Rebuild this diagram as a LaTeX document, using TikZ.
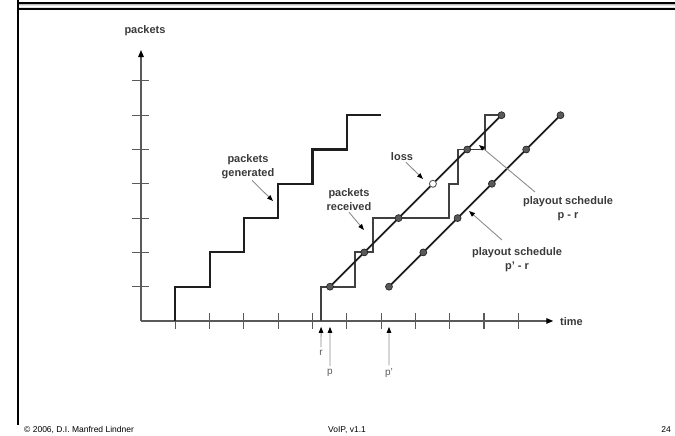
\documentclass[tikz,border=0pt]{standalone}
\usepackage{fontspec}
\setmainfont{Liberation Sans}
\usetikzlibrary{arrows.meta}
\definecolor{ink}{HTML}{1E1E1E}
\definecolor{axisgray}{HTML}{5A5A5A}
\definecolor{labelgray}{HTML}{3A3A3A}
\definecolor{leadergray}{HTML}{8C8C8C}
\definecolor{dotgray}{HTML}{595959}
\begin{document}
\begin{tikzpicture}[x=1pt,y=1pt,
  axisline/.style={draw=axisgray,line width=1.3pt},
  tickline/.style={draw=axisgray,line width=1.1pt},
  stair/.style={draw=ink,line width=2.1pt,line join=miter},
  recvstair/.style={draw=ink!85,line width=1.8pt,line join=miter},
  playline/.style={draw=ink,line width=1.7pt},
  pktdot/.style={fill=dotgray,draw=ink,line width=0.6pt},
  lossdot/.style={fill=white,draw=axisgray,line width=0.9pt},
  lbl/.style={font=\fontsize{11}{14}\selectfont\bfseries,text=labelgray,align=center,inner sep=1pt},
  marklbl/.style={font=\fontsize{10}{12}\selectfont,text=axisgray,inner sep=3pt},
  leader/.style={draw=leadergray,line width=0.9pt,-{Triangle[length=6pt,width=4.5pt,color=black]}},
  footer/.style={font=\fontsize{8.5}{10}\selectfont,text=black,inner sep=0pt,anchor=base west}
]
\useasboundingbox (0,0) rectangle (675,436);

% slide frame: header bar and left rule
\shade[top color=gray!75,bottom color=gray!75,middle color=white] (18,427) rectangle (675,433);
\draw[black,line width=1.6pt] (18,433) -- (675,433);
\draw[black,line width=1.6pt] (18,427) -- (675,427);
\draw[black,line width=1.8pt] (18,436) -- (18,11);

% footer
\node[footer] (copy) at (24,3) {© 2006, D.I. Manfred Lindner};
\node[footer] (ver) at (328,3) {VoIP, v1.1};
\node[footer,anchor=base east] (page) at (671,3) {24};

% plot in grid units: one tick = 34.3pt
\begin{scope}[shift={(141pt,115pt)},x=34.3pt,y=34.3pt]
  \coordinate (O) at (0,0);
  \coordinate (xend) at (12.02,0);
  \coordinate (yend) at (0,7.9);
  \draw[axisline,-{Triangle[length=7pt,width=5.5pt,color=black]}] (O) -- (xend);
  \draw[axisline,-{Triangle[length=7pt,width=5.5pt,color=black]}] (O) -- (yend);
  \foreach \i in {1,...,11} \draw[tickline] (\i,-0.24) -- (\i,0.22);
  \foreach \j in {1,...,7} \draw[tickline] (-0.26,\j) -- (0.24,\j);

  % packets generated
  \draw[stair] (1,0) -- (1,1) -- (2,1) -- (2,2) -- (3,2) -- (3,3) -- (4,3)
    -- (4,4) -- (5,4) -- (5,5) -- (6,5) -- (6,6) -- (7,6);

  % packets received
  \draw[recvstair] (5.25,0) -- (5.25,1) -- (6.25,1) -- (6.25,2) -- (6.76,2)
    -- (6.76,3) -- (8.98,3) -- (8.98,4) -- (9.24,4) -- (9.24,5) -- (10.03,5)
    -- (10.03,6) -- (10.52,6);

  % playout schedule p - r
  \draw[playline] (5.51,1) -- (10.51,6);
  \foreach \k in {0,1,2,4,5}
    \fill[pktdot] (5.51+\k,1+\k) circle[radius=3.5pt];
  \filldraw[lossdot] (8.51,4) circle[radius=3.5pt];

  % playout schedule p' - r
  \draw[playline] (7.23,1) -- (12.23,6);
  \foreach \k in {0,...,5}
    \fill[pktdot] (7.23+\k,1+\k) circle[radius=3.5pt];

  % time marks under the axis
  \coordinate (rtip) at (5.25,-0.17);
  \coordinate (ptip) at (5.51,-0.17);
  \coordinate (pptip) at (7.23,-0.17);
\end{scope}

% axis names
\node[lbl,font=\fontsize{11}{13}\selectfont\bfseries] (ylab) at (145,405) {packets};
\node[lbl,anchor=west,inner sep=0pt] (tlab) at (560,114) {time};

% r, p, p' marks
\node[marklbl] (rlab) at (321,83) {r};
\node[marklbl] (plab) at (330,63) {p};
\node[marklbl] (pplab) at (389,63) {p'};
\draw[leader] (rlab) -- (rtip);
\draw[leader] (plab) -- (ptip);
\draw[leader] (pplab) -- (pptip);

% curve labels
\node[lbl] (gen) at (248,269) {packets\\generated};
\coordinate (gentip) at (273,235);
\draw[leader] ([xshift=4pt]gen.south) -- (gentip);

\node[lbl] (recv) at (349,236) {packets\\received};
\coordinate (recvtip) at (364,206);
\draw[leader] (recv.south) -- (recvtip);

\node[lbl] (loss) at (402,279) {loss};
\coordinate (losstip) at (423,257);
\draw[leader] ([xshift=4pt]loss.south) -- (losstip);

\node[lbl] (pr) at (568,227.5) {playout schedule\\p - r};
\coordinate (prfrom) at (535,244);
\coordinate (prtip) at (479,291);
\draw[leader] (prfrom) -- (prtip);

\node[lbl] (ppr) at (517,176) {playout schedule\\p' - r};
\coordinate (pprfrom) at (502,196);
\coordinate (pprtip) at (469,225);
\draw[leader] (pprfrom) -- (pprtip);
\end{tikzpicture}
\end{document}
